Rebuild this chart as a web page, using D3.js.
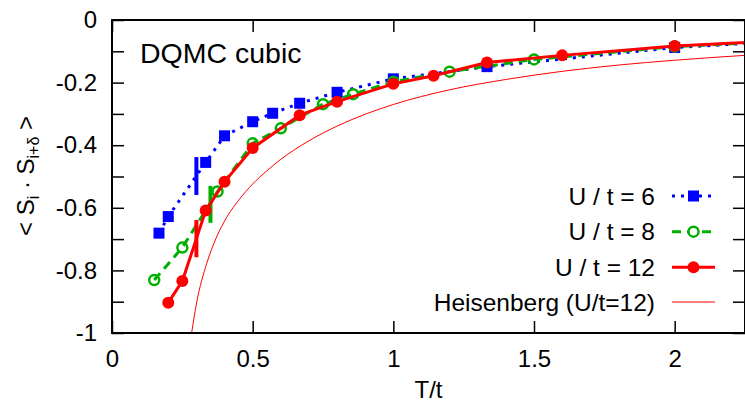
<!DOCTYPE html>
<html><head><meta charset="utf-8">
<script src="https://cdn.jsdelivr.net/npm/d3@7"></script>
<style>body{margin:0;background:#fff} svg{display:block} text{font-family:"Liberation Sans",Arial,sans-serif;fill:#000}</style>
</head><body><svg id="c" width="745" height="405"></svg>
<script>
// ---- data ----
const T6  = [0.167, 0.2, 0.333, 0.4, 0.5, 0.571, 0.667, 0.8, 1.0, 1.333, 2.0, 2.5];
const S6  = [-0.681, -0.628, -0.455, -0.370, -0.325, -0.298, -0.266, -0.231, -0.188, -0.149, -0.088, -0.062];
const T8  = [0.15, 0.25, 0.375, 0.5, 0.6, 0.75, 0.857, 1.0, 1.2, 1.5, 2.0, 2.5];
const S8  = [-0.831, -0.727, -0.548, -0.394, -0.346, -0.269, -0.237, -0.197, -0.165, -0.126, -0.085, -0.062];
const T12 = [0.2, 0.25, 0.333, 0.4, 0.5, 0.667, 0.8, 1.0, 1.143, 1.333, 1.6, 2.0, 2.5];
const S12 = [-0.903, -0.834, -0.609, -0.517, -0.409, -0.304, -0.261, -0.204, -0.178, -0.136, -0.113, -0.083, -0.060];
const THeis = [0.283, 0.30, 0.337, 0.37, 0.41, 0.45, 0.5, 0.55, 0.6, 0.7, 0.8, 0.9, 1.0, 1.2, 1.4, 1.6, 1.8, 2.0, 2.25];
const SHeis = [-1.0, -0.907, -0.777, -0.697, -0.627, -0.576, -0.524, -0.482, -0.445, -0.386, -0.339, -0.301, -0.270, -0.223, -0.190, -0.164, -0.144, -0.1285, -0.113];
// vertical markers (transition estimates)
const barT  = [0.3, 0.35, 0.3];
const barLo = [-0.559, -0.648, -0.758];
const barHi = [-0.438, -0.530, -0.639];
const seriesNames = ["U / t = 6", "U / t = 8", "U / t = 12", "Heisenberg (U/t=12)"];
const xTicks = [0, 0.5, 1, 1.5, 2];
const xTickLabels = ["0", "0.5", "1", "1.5", "2"];
const yTicksAll = [0, -0.1, -0.2, -0.3, -0.4, -0.5, -0.6, -0.7, -0.8, -0.9, -1];
const yTickLabelVals = [0, -0.2, -0.4, -0.6, -0.8, -1];
const yTickLabels = ["0", "-0.2", "-0.4", "-0.6", "-0.8", "-1"];

// ---- layout ----
const L = 112, R = 745, Tp = 20, B = 333;
const svg = d3.select("#c");
const x = d3.scaleLinear().domain([0, 2.25]).range([L, R]);
const y = d3.scaleLinear().domain([-1, 0]).range([B, Tp]);

const colors = ["#0000ff", "#00b000", "#ff0000", "#ff0000"];

svg.append("defs").append("clipPath").attr("id", "clip")
  .append("rect").attr("x", L).attr("y", Tp).attr("width", R - L).attr("height", B - Tp);

// axes
const tickLen = 12;
const fmtX = (d) => xTickLabels[xTicks.indexOf(d)];
svg.append("g").attr("transform", `translate(0,${B})`)
  .call(d3.axisBottom(x).tickValues(xTicks).tickSize(-tickLen).tickPadding(17).tickFormat(fmtX))
  .call(g => { g.select(".domain").remove(); g.selectAll("line").attr("stroke", "#000").attr("stroke-width", 1.5);
    g.selectAll("text").attr("font-size", 24).attr("font-family", '"Liberation Sans",Arial,sans-serif'); });
svg.append("g").attr("transform", `translate(0,${Tp})`)
  .call(d3.axisTop(x).tickValues(xTicks).tickSize(-tickLen).tickFormat(""))
  .call(g => { g.select(".domain").remove(); g.selectAll("line").attr("stroke", "#000").attr("stroke-width", 1.5); });
const fmtY = (d) => { const i = yTickLabelVals.findIndex(v => Math.abs(v - d) < 1e-9); return i >= 0 ? yTickLabels[i] : ""; };
svg.append("g").attr("transform", `translate(${L},0)`)
  .call(d3.axisLeft(y).tickValues(yTicksAll).tickSize(-tickLen).tickPadding(15).tickFormat(fmtY))
  .call(g => { g.select(".domain").remove(); g.selectAll("line").attr("stroke", "#000").attr("stroke-width", 1.5);
    g.selectAll("text").attr("font-size", 24).attr("font-family", '"Liberation Sans",Arial,sans-serif'); });
svg.append("g").attr("transform", `translate(${R},0)`)
  .call(d3.axisRight(y).tickValues(yTicksAll).tickSize(-tickLen).tickFormat(""))
  .call(g => { g.select(".domain").remove(); g.selectAll("line").attr("stroke", "#000").attr("stroke-width", 1.5); });

// plot content
const plot = svg.append("g").attr("clip-path", "url(#clip)");
const line = d3.line().x(d => x(d[0])).y(d => y(d[1]));
const heisLine = d3.line().curve(d3.curveMonotoneX).x(d => x(d[0])).y(d => y(d[1]));
const zip = (a, b) => a.map((v, i) => [v, b[i]]);

plot.append("path").datum(zip(THeis, SHeis)).attr("d", heisLine)
  .attr("fill", "none").attr("stroke", colors[3]).attr("stroke-width", 1);

// U=6
plot.append("path").datum(zip(T6, S6)).attr("d", line)
  .attr("fill", "none").attr("stroke", colors[0]).attr("stroke-width", 3).attr("stroke-dasharray", "3,6");
// U=8
plot.append("path").datum(zip(T8, S8)).attr("d", line)
  .attr("fill", "none").attr("stroke", colors[1]).attr("stroke-width", 3).attr("stroke-dasharray", "9,6");

// bars
barT.forEach((t, i) => {
  plot.append("line").attr("x1", x(t)).attr("x2", x(t)).attr("y1", y(barLo[i])).attr("y2", y(barHi[i]))
    .attr("stroke", colors[i]).attr("stroke-width", 4);
});

const sq = 11;
plot.selectAll(".s6").data(zip(T6, S6)).enter().append("rect")
  .attr("x", d => x(d[0]) - sq / 2).attr("y", d => y(d[1]) - sq / 2).attr("width", sq).attr("height", sq)
  .attr("fill", colors[0]);
plot.selectAll(".s8").data(zip(T8, S8)).enter().append("circle")
  .attr("cx", d => x(d[0])).attr("cy", d => y(d[1])).attr("r", 5)
  .attr("fill", "none").attr("stroke", colors[1]).attr("stroke-width", 2.5);
// U=12
plot.append("path").datum(zip(T12, S12)).attr("d", line)
  .attr("fill", "none").attr("stroke", colors[2]).attr("stroke-width", 3);
plot.selectAll(".s12").data(zip(T12, S12)).enter().append("circle")
  .attr("cx", d => x(d[0])).attr("cy", d => y(d[1])).attr("r", 6).attr("fill", colors[2]);

// frame
svg.append("rect").attr("x", L).attr("y", Tp).attr("width", R - L).attr("height", B - Tp)
  .attr("fill", "none").attr("stroke", "#000").attr("stroke-width", 2);

// title
svg.append("text").attr("x", 140).attr("y", 63).attr("font-size", 28.5).text("DQMC cubic");

// axis labels
svg.append("text").attr("x", (L + R) / 2).attr("y", 398).attr("text-anchor", "middle").attr("font-size", 24).text("T/t");
const yl = svg.append("text").attr("transform", "translate(34,176) rotate(-90)").attr("text-anchor", "middle").attr("font-size", 24);
yl.append("tspan").text("< S");
yl.append("tspan").attr("dy", 5).attr("font-size", 16).text("i");
yl.append("tspan").attr("dy", -5).text(" · S");
yl.append("tspan").attr("dy", 5).attr("font-size", 16).text("i+δ");
yl.append("tspan").attr("dy", -5).text(" >");

// legend
const legY = [196, 231.7, 267.3, 302];
const lx1 = 672, lx2 = 715, lm = 693.5;
const leg = svg.append("g");
seriesNames.forEach((name, i) => {
  leg.append("text").attr("x", 655).attr("y", legY[i]).attr("dy", "0.35em").attr("text-anchor", "end")
    .attr("font-size", 24.5).text(name);
  const ln = leg.append("line").attr("x1", lx1).attr("x2", lx2).attr("y1", legY[i]).attr("y2", legY[i])
    .attr("stroke", colors[i]).attr("stroke-width", i === 3 ? 1 : 3);
  if (i === 0) ln.attr("stroke-dasharray", "3,6");
  if (i === 1) ln.attr("stroke-dasharray", "9,6");
});
leg.append("rect").attr("x", lm - sq / 2).attr("y", legY[0] - sq / 2).attr("width", sq).attr("height", sq).attr("fill", colors[0]);
leg.append("circle").attr("cx", lm).attr("cy", legY[1]).attr("r", 5).attr("fill", "#fff").attr("stroke", colors[1]).attr("stroke-width", 2.5);
leg.append("circle").attr("cx", lm).attr("cy", legY[2]).attr("r", 6).attr("fill", colors[2]);
</script>
</body></html>
